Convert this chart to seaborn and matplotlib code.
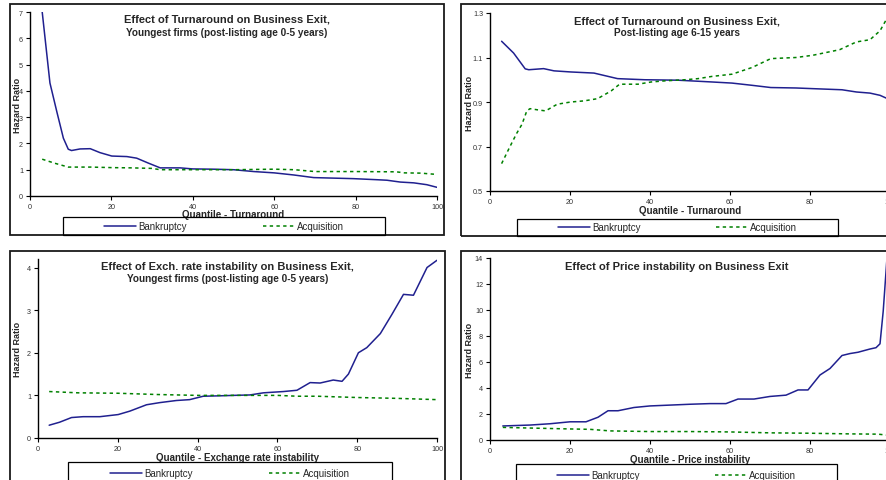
import numpy as np
import pandas as pd
import seaborn as sns
import matplotlib.pyplot as plt
from matplotlib.lines import Line2D
from matplotlib.patches import Rectangle

# ---- data ----
p1_bank_x = [3, 4.9, 6.6, 8.2, 9.4, 10.2, 12.3, 14.8, 17.2, 20.1, 23.8, 26.2, 29.1, 32, 36.9, 40,
             45, 50, 55, 60, 64.8, 69.7, 74.6, 79.5, 85.2, 87.7, 91, 94.3, 97.5, 100]
p1_bank = [7.0, 4.3, 3.2, 2.2, 1.78, 1.73, 1.79, 1.8, 1.65, 1.52, 1.5, 1.44, 1.25, 1.07, 1.07, 1.03,
           1.02, 1.0, 0.93, 0.88, 0.8, 0.7, 0.68, 0.66, 0.62, 0.6, 0.53, 0.5, 0.43, 0.33]
p1_acq_x = [3, 6, 9.4, 15, 20, 25, 30, 32, 40, 50, 60, 65, 70, 80, 90, 92, 96, 100]
p1_acq = [1.4, 1.25, 1.1, 1.1, 1.08, 1.07, 1.05, 1.0, 1.0, 1.0, 1.02, 1.0, 0.93, 0.93, 0.92, 0.88, 0.87, 0.82]

p2_bank_x = [2.9, 5.9, 8.8, 9.7, 13.4, 16, 20.2, 26, 31.9, 38.7, 47, 55.5, 60.5, 65.5, 70.2, 76.5,
             80.7, 88, 91.6, 95, 97.5, 100]
p2_bank = [1.173, 1.12, 1.049, 1.045, 1.05, 1.04, 1.035, 1.03, 1.005, 1.0, 0.998, 0.99, 0.985, 0.975,
           0.965, 0.963, 0.96, 0.955, 0.945, 0.94, 0.93, 0.91]
p2_acq_x = [2.9, 5, 6.7, 8, 9.2, 10, 11.8, 13.9, 16.8, 20.2, 23.5, 26.9, 30.3, 32.4, 37, 40.3, 43.7,
            48.7, 52, 55.5, 60.5, 65.5, 70.2, 76.5, 80.7, 87.4, 91.6, 95, 97.5, 100]
p2_acq = [0.623, 0.7, 0.76, 0.8, 0.86, 0.87, 0.865, 0.86, 0.89, 0.9, 0.905, 0.915, 0.95, 0.98, 0.98,
          0.99, 0.995, 1.0, 1.005, 1.015, 1.025, 1.055, 1.095, 1.1, 1.11, 1.135, 1.17, 1.18, 1.22, 1.3]

p3_bank_x = [2.8, 5.4, 8.4, 11.3, 15.5, 20.1, 23, 27.2, 30.5, 34.7, 38, 41.4, 45.6, 49, 53.1, 56.5,
             61.5, 64.9, 68.2, 70.7, 74, 76.2, 77.8, 80.3, 82.4, 85.8, 88.7, 91.6, 94.1, 97.5, 100]
p3_bank = [0.3, 0.37, 0.48, 0.5, 0.5, 0.55, 0.63, 0.78, 0.83, 0.88, 0.9, 0.98, 0.99, 1.0, 1.01, 1.06,
           1.09, 1.12, 1.3, 1.29, 1.36, 1.33, 1.5, 2.0, 2.12, 2.45, 2.9, 3.37, 3.35, 4.0, 4.17]
p3_acq_x = [2.8, 10, 20, 30, 40, 50, 60, 65, 70, 80, 90, 100]
p3_acq = [1.09, 1.06, 1.05, 1.02, 1.0, 1.0, 1.0, 0.98, 0.98, 0.95, 0.93, 0.9]

p4_bank_x = [3.2, 10, 15, 20, 24, 27, 29.5, 32, 36, 40, 50, 55, 59, 62, 66, 70, 74, 77, 79.5, 82.5,
             85, 88, 90, 92, 95, 96.5, 97.5, 98.3, 99.2, 100]
p4_bank = [1.08, 1.15, 1.25, 1.4, 1.4, 1.75, 2.25, 2.25, 2.5, 2.62, 2.75, 2.8, 2.8, 3.15, 3.15, 3.35,
           3.45, 3.85, 3.85, 5.0, 5.5, 6.5, 6.65, 6.75, 7.0, 7.1, 7.4, 9.9, 13.8, 14.0]
p4_acq_x = [3.2, 10, 20, 25, 30, 40, 50, 60, 70, 80, 90, 97, 100]
p4_acq = [0.97, 0.92, 0.85, 0.82, 0.7, 0.65, 0.65, 0.62, 0.55, 0.52, 0.47, 0.45, 0.35]

titles = [("Effect of Turnaround on Business Exit,", "Youngest firms (post-listing age 0-5 years)"),
          ("Effect of Turnaround on Business Exit,", "Post-listing age 6-15 years"),
          ("Effect of Exch. rate instability on Business Exit,", "Youngest firms (post-listing age 0-5 years)"),
          ("Effect of Price instability on Business Exit", None)]
xlabels = ["Quantile - Turnaround", "Quantile - Turnaround",
           "Quantile - Exchange rate instability", "Quantile - Price instability"]
yticks = [[0, 1, 2, 3, 4, 5, 6, 7], [0.5, 0.7, 0.9, 1.1, 1.3], [0, 1, 2, 3, 4], [0, 2, 4, 6, 8, 10, 12, 14]]
ylims = [(0, 7), (0.5, 1.3), (0, 4.2), (0, 14)]

series = [(p1_bank_x, p1_bank, p1_acq_x, p1_acq), (p2_bank_x, p2_bank, p2_acq_x, p2_acq),
          (p3_bank_x, p3_bank, p3_acq_x, p3_acq), (p4_bank_x, p4_bank, p4_acq_x, p4_acq)]

sns.set_style("white")
plt.rcParams['font.family'] = ['Liberation Sans', 'DejaVu Sans']

W, H = 886, 481
fig = plt.figure(figsize=(W / 100, H / 100), dpi=100)


def fx(x):
    return x / W


def fy(y):
    return 1 - y / H


# plot areas in pixels: left, top, right, bottom
areas = [(30, 13, 437, 197), (490, 14, 890, 192), (38, 260, 437, 439), (490, 259, 890, 441)]
# outer chart boxes
boxes = [(10, 5, 444, 236), (461, 5, 893, 237), (10, 252, 445, 500), (461, 252, 893, 500)]
# legend boxes
legboxes = [(63, 218, 385, 236), (517, 220, 838, 237), (68, 463, 392, 485), (516, 465, 837, 487)]
ylab_x = [17, 470, 17, 469]
xlab_y = [215, 211, 458, 460]
title_y = [(20, 33), (22, 33), (267, 279), (267, None)]

navy = '#20208f'
green = '#008000'
pal = {'Bankruptcy': navy, 'Acquisition': green}
dash = {'Bankruptcy': '', 'Acquisition': (2.2, 2.2)}

for i in range(4):
    bx, by, ax_, ay = series[i]
    df = pd.concat([
        pd.DataFrame({'quantile': bx, 'ratio': by, 'series': 'Bankruptcy'}),
        pd.DataFrame({'quantile': ax_, 'ratio': ay, 'series': 'Acquisition'}),
    ])
    l, t, r, b = areas[i]
    ax = fig.add_axes([fx(l), fy(b), fx(r - l), (b - t) / H])
    sns.lineplot(data=df, x='quantile', y='ratio', hue='series', style='series',
                 palette=pal, dashes=dash, estimator=None, legend=False, ax=ax, lw=1.1)
    ax.set_xlim(0, 100)
    ax.set_ylim(*ylims[i])
    ax.set_xticks([0, 20, 40, 60, 80, 100])
    ax.set_yticks(yticks[i])
    if i == 1:
        ax.set_yticklabels([f"{v:.1f}" for v in yticks[i]])
    sns.despine(ax=ax)
    for s in ['left', 'bottom']:
        ax.spines[s].set_color('black')
        ax.spines[s].set_linewidth(1.0)
    ax.tick_params(axis='both', direction='out', length=3, width=0.8, colors='black',
                   labelsize=5.2, labelcolor='#333333', pad=2, left=True, bottom=True)
    ax.set_xlabel(xlabels[i], fontsize=7, fontweight='bold')
    ax.set_ylabel('Hazard Ratio', fontsize=6.5, fontweight='bold')
    ax.xaxis.set_label_coords(0.5, (b - xlab_y[i]) / (b - t))
    ax.xaxis.label.set_va('center')
    ax.yaxis.set_label_coords((ylab_x[i] - l) / (r - l), 0.5)
    ax.yaxis.label.set_va('center')

    cx = (boxes[i][0] + boxes[i][2]) / 2
    t1, t2 = titles[i]
    fig.text(fx(cx), fy(title_y[i][0]), t1, ha='center', va='center', fontsize=8, fontweight='bold')
    if t2:
        fig.text(fx(cx), fy(title_y[i][1]), t2, ha='center', va='center', fontsize=7.2, fontweight='bold')

    x0, y0, x1, y1 = boxes[i]
    fig.add_artist(Rectangle((fx(x0), fy(y1)), fx(x1 - x0), (y1 - y0) / H, transform=fig.transFigure,
                             fill=False, edgecolor='#1a1a1a', lw=1.3))
    x0, y0, x1, y1 = legboxes[i]
    fig.add_artist(Rectangle((fx(x0), fy(y1)), fx(x1 - x0), (y1 - y0) / H, transform=fig.transFigure,
                             fill=False, edgecolor='black', lw=0.9))
    handles = [Line2D([], [], color=navy, lw=1.1),
               Line2D([], [], color=green, lw=1.1, dashes=(2.2, 2.2))]
    fig.legend(handles, ['Bankruptcy', 'Acquisition'], loc='center',
               bbox_to_anchor=(fx((x0 + x1) / 2), fy((y0 + y1) / 2)), ncol=2, frameon=False,
               fontsize=7, handlelength=3.3, handletextpad=0.2, columnspacing=7.8, borderpad=0)

fig.savefig('out.png', dpi=100)
